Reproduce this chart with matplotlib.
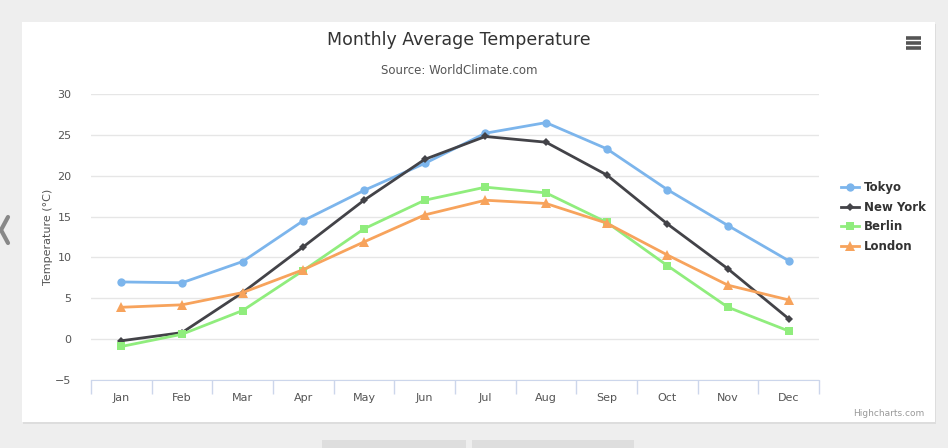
import numpy as np
import matplotlib
matplotlib.use("Agg")
import matplotlib.pyplot as plt
from matplotlib.patches import Rectangle

months = ["Jan", "Feb", "Mar", "Apr", "May", "Jun",
          "Jul", "Aug", "Sep", "Oct", "Nov", "Dec"]
tokyo = [7.0, 6.9, 9.5, 14.5, 18.2, 21.5, 25.2, 26.5, 23.3, 18.3, 13.9, 9.6]
new_york = [-0.2, 0.8, 5.7, 11.3, 17.0, 22.0, 24.8, 24.1, 20.1, 14.1, 8.6, 2.5]
berlin = [-0.9, 0.6, 3.5, 8.4, 13.5, 17.0, 18.6, 17.9, 14.3, 9.0, 3.9, 1.0]
london = [3.9, 4.2, 5.7, 8.5, 11.9, 15.2, 17.0, 16.6, 14.2, 10.3, 6.6, 4.8]

series = [
    ("Tokyo", tokyo, "#7cb5ec", "o", 6),
    ("New York", new_york, "#434348", "D", 4.5),
    ("Berlin", berlin, "#90ed7d", "s", 6),
    ("London", london, "#f7a35c", "^", 6.5),
]

W, H = 948, 448
fig = plt.figure(figsize=(W / 100, H / 100), dpi=100)
fig.patch.set_facecolor("#eeeeee")

# page background / card drawn in pixel coordinates
bg = fig.add_axes([0, 0, 1, 1], zorder=0)
bg.set_xlim(0, W)
bg.set_ylim(H, 0)
bg.axis("off")
bg.add_patch(Rectangle((23, 24), 913, 400, facecolor="#dddddd", edgecolor="none"))
bg.add_patch(Rectangle((22, 22), 913, 400, facecolor="white", edgecolor="none"))
bg.add_patch(Rectangle((322, 440), 144, 10, facecolor="#dedede", edgecolor="none"))
bg.add_patch(Rectangle((472, 440), 162, 10, facecolor="#dedede", edgecolor="none"))
bg.plot([8, 1, 8], [217, 230, 243], color="#888888", lw=3, solid_capstyle="round")
for yy in (38, 43, 48):
    bg.plot([906, 921], [yy, yy], color="#555555", lw=2.6, solid_capstyle="butt")

bg.text(459, 40, "Monthly Average Temperature", ha="center", va="center",
        fontsize=12.5, color="#333333")
bg.text(459, 70, "Source: WorldClimate.com", ha="center", va="center",
        fontsize=8.5, color="#555555")
bg.text(924, 413, "Highcharts.com", ha="right", va="center",
        fontsize=6.5, color="#999999")
bg.text(48, 237, "Temperature (°C)", ha="center", va="center", rotation=90,
        fontsize=8, color="#555555")

ax = fig.add_axes([91 / W, 1 - 380 / H, (819 - 91) / W, (380 - 94) / H], zorder=1)
ax.set_facecolor("none")
x = np.arange(len(months))
for name, vals, color, marker, ms in series:
    ax.plot(x, vals, color=color, lw=2, marker=marker, markersize=ms,
            markeredgewidth=0, label=name, clip_on=False)

ax.set_xlim(-0.5, 11.5)
ax.set_ylim(-5, 30)
ax.set_yticks(range(-5, 31, 5))
ax.set_xticks(x)
ax.set_xticklabels(months)
ax.set_xticks(np.arange(-0.5, 12, 1), minor=True)
ax.tick_params(axis="x", which="major", length=0, pad=9, labelsize=8, labelcolor="#555555")
ax.tick_params(axis="x", which="minor", length=10, color="#ccd6eb", width=1)
ax.tick_params(axis="y", length=0, pad=14, labelsize=8, labelcolor="#555555")
ax.grid(axis="y", color="#e6e6e6", lw=1)
ax.set_axisbelow(True)
for s in ("top", "right", "left"):
    ax.spines[s].set_visible(False)
ax.spines["bottom"].set_color("#ccd6eb")

leg = ax.legend(loc="center left", bbox_to_anchor=(1.015, 0.57), frameon=False,
                prop={"weight": "bold", "size": 8.5}, handlelength=1.6,
                handletextpad=0.4, labelspacing=0.55)
for t in leg.get_texts():
    t.set_color("#333333")

fig.savefig("out.png", dpi=100, facecolor=fig.get_facecolor())
